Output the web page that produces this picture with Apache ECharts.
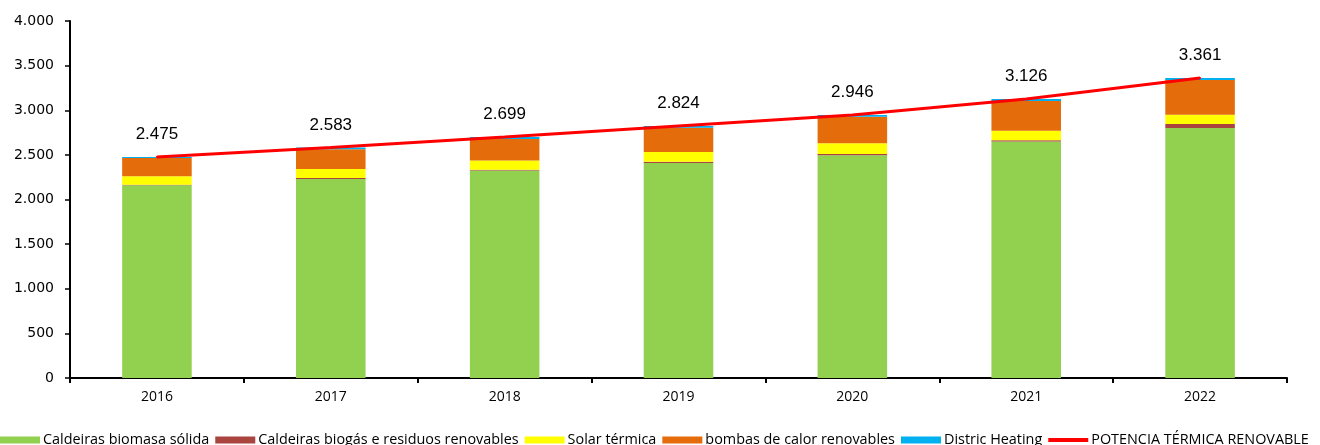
<!DOCTYPE html>
<html>
<head>
<meta charset="utf-8">
<title>Potencia térmica renovable</title>
<script src="https://cdn.jsdelivr.net/npm/echarts@6/dist/echarts.min.js"></script>
<style>
  html, body { margin: 0; padding: 0; background: #fff; }
  #chart { width: 1320px; height: 445px; }
</style>
</head>
<body>
<div id="chart"></div>
<script>
// datos
const years = ['2016', '2017', '2018', '2019', '2020', '2021', '2022'];
const biomasa = [2160, 2230, 2325, 2410, 2495, 2650, 2800]; // Caldeiras biomasa sólida
const biogas = [5, 12, 8, 12, 15, 15, 45]; // Caldeiras biogás e residuos renovables
const solar = [95, 100, 105, 110, 120, 105, 105]; // Solar térmica
const bombas = [205, 220, 240, 272, 296, 335, 390]; // bombas de calor renovables
const distric = [10, 21, 21, 20, 20, 21, 21]; // Distric Heating
const total = [2475, 2583, 2699, 2824, 2946, 3126, 3361]; // POTENCIA TÉRMICA RENOVABLE
const yTicks = [0, 500, 1000, 1500, 2000, 2500, 3000, 3500, 4000];

// formato con punto de miles
const fmt = v => String(Math.round(v)).replace(/\B(?=(\d{3})+(?!\d))/g, '.');

const chart = echarts.init(document.getElementById('chart'), null, { renderer: 'canvas' });

const barSeries = [
  { name: 'Caldeiras biomasa sólida', data: biomasa, color: '#92D050' },
  { name: 'Caldeiras biogás e residuos renovables', data: biogas, color: '#A9443F' },
  { name: 'Solar térmica', data: solar, color: '#FFFF00' },
  { name: 'bombas de calor renovables', data: bombas, color: '#E46C0A' },
  { name: 'Distric Heating', data: distric, color: '#00B0F0' }
].map(s => ({
  name: s.name,
  type: 'bar',
  stack: 'total',
  barWidth: '40%',
  data: s.data,
  itemStyle: { color: s.color },
  emphasis: { disabled: true }
}));

const option = {
  animation: false,
  grid: {
    left: 70,
    right: 33,
    top: 21,
    bottom: 67
  },
  legend: {
    bottom: -2,
    left: 0,
    padding: 0,
    width: 1500,
    itemWidth: 40,
    itemHeight: 7,
    itemGap: 6,
    textStyle: {
      fontFamily: 'Open Sans',
      fontSize: 14.4,
      color: '#000',
      padding: [0, 0, 0, -2]
    },
    data: [
      { name: 'Caldeiras biomasa sólida', icon: 'rect' },
      { name: 'Caldeiras biogás e residuos renovables', icon: 'rect' },
      { name: 'Solar térmica', icon: 'rect' },
      { name: 'bombas de calor renovables', icon: 'rect' },
      { name: 'Distric Heating', icon: 'rect' },
      {
        name: 'POTENCIA TÉRMICA RENOVABLE',
        icon: 'path://M0,0 L10,0 L10,1 L0,1 Z',
        itemStyle: { color: '#FF0000', opacity: 1 }
      }
    ]
  },
  xAxis: {
    type: 'category',
    data: years,
    axisLine: { lineStyle: { color: '#000', width: 2 } },
    axisTick: { show: true, length: 5, lineStyle: { color: '#000', width: 2 } },
    axisLabel: {
      fontFamily: 'Open Sans',
      fontSize: 14,
      color: '#000',
      margin: 12
    }
  },
  yAxis: {
    type: 'value',
    min: yTicks[0],
    max: yTicks[yTicks.length - 1],
    interval: yTicks[1] - yTicks[0],
    splitLine: { show: false },
    axisLine: { show: true, lineStyle: { color: '#000', width: 2 } },
    axisTick: { show: true, length: 5, lineStyle: { color: '#000', width: 1.5 } },
    axisLabel: {
      fontFamily: 'DejaVu Sans',
      fontSize: 14,
      color: '#000',
      margin: 16,
      formatter: v => fmt(v)
    }
  },
  series: [
    ...barSeries,
    {
      name: 'POTENCIA TÉRMICA RENOVABLE',
      type: 'line',
      data: total,
      symbol: 'circle',
      symbolSize: 2,
      showSymbol: true,
      lineStyle: { color: '#FF0000', width: 3 },
      itemStyle: { color: '#FF0000' },
      z: 5,
      label: {
        show: true,
        position: 'top',
        distance: 13,
        fontFamily: 'Liberation Sans',
        fontSize: 17,
        color: '#000',
        formatter: p => fmt(p.value)
      }
    }
  ]
};

chart.setOption(option);
</script>
</body>
</html>
